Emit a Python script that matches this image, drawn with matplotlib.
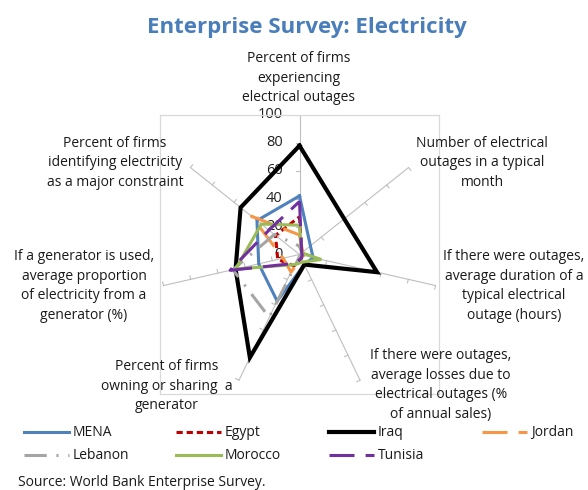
import matplotlib
matplotlib.use('Agg')
import matplotlib.pyplot as plt
import numpy as np
from matplotlib.lines import Line2D

plt.rcParams['font.family'] = ['Open Sans', 'DejaVu Sans']
plt.rcParams['lines.scale_dashes'] = False

# Data
categories = [
    'Percent of firms\nexperiencing\nelectrical outages',
    'Number of electrical\noutages in a typical\nmonth',
    'If there were outages,\naverage duration of a\ntypical electrical\noutage (hours)',
    'If there were outages,\naverage losses due to\nelectrical outages (%\nof annual sales)',
    'Percent of firms\nowning or sharing  a\ngenerator',
    'If a generator is used,\naverage proportion\nof electricity from a\ngenerator (%)',
    'Percent of firms\nidentifying electricity\nas a major constraint',
]
series_names = ['MENA', 'Egypt', 'Iraq', 'Jordan', 'Lebanon', 'Morocco', 'Tunisia']
mena = [42, 10, 10, 8, 37, 30, 39]
egypt = [27, 2, 2, 3, 9, 16, 22]
iraq = [78, 41, 57, 8, 82, 47, 54]
jordan = [14, 3, 3, 3, 14, 12, 44]
lebanon = [6, 2, 2, 1, 50, 49, 23]
morocco = [21, 2, 16, 6, 8, 47, 35]
tunisia = [38, 2, 2, 3, 7, 51, 28]
tick_values = [0, 20, 40, 60, 80, 100]

series = [mena, egypt, iraq, jordan, lebanon, morocco, tunisia]

# line styles: color, width (pt), dash pattern (pt)
styles = {
    'MENA':    ('#4F81BD', 2.2, None),
    'Egypt':   ('#C00000', 2.2, (4.5, 2.8)),
    'Iraq':    ('#000000', 3.0, None),
    'Jordan':  ('#F79646', 2.2, (18, 8)),
    'Lebanon': ('#A5A5A5', 2.2, (16, 7, 1.5, 7)),
    'Morocco': ('#9BBB59', 2.2, None),
    'Tunisia': ('#7030A0', 2.2, (18, 8)),
}

# label centres in pixels (x, y from top)
label_pos = [(299, 78), (482, 163), (514, 286), (441, 385),
             (167, 386), (84, 286), (115, 163)]

W, H = 588, 490
fig = plt.figure(figsize=(W / 100, H / 100), dpi=100)
ax = fig.add_axes([160 / W, 1 - 394 / H, 279 / W, 279 / H])
ax.set_xlim(-100, 100)
ax.set_ylim(-100, 100)
ax.set_xticks([])
ax.set_yticks([])
for s in ax.spines.values():
    s.set_color('#D9D9D9')
    s.set_linewidth(0.9)

n = len(categories)
angles = np.pi / 2 - 2 * np.pi * np.arange(n) / n
dx = np.cos(angles)
dy = np.sin(angles)

# spokes with small tick marks
for k in range(n):
    ax.plot([0, 100 * dx[k]], [0, 100 * dy[k]], color='#BFBFBF', lw=0.8, zorder=1)
    if k == 0:
        px, py = -1.0, 0.0
    else:
        px, py = dy[k], -dx[k]
    for v in tick_values[1:]:
        ax.plot([v * dx[k], v * dx[k] + 2.6 * px], [v * dy[k], v * dy[k] + 2.6 * py],
                color='#BFBFBF', lw=0.8, zorder=1)

# value labels on the first spoke
for v in tick_values:
    ax.text(-12, v, str(v), ha='right', va='center', fontsize=10.5, color='#222222', zorder=2)

# series polygons
for i, (name, vals) in enumerate(zip(series_names, series)):
    color, lw, dashes = styles[name]
    v = np.array(vals + vals[:1], dtype=float)
    xs = v * np.append(dx, dx[0])
    ys = v * np.append(dy, dy[0])
    line, = ax.plot(xs, ys, color=color, lw=lw, zorder=3 + i,
                    solid_joinstyle='miter', dash_capstyle='butt')
    if dashes:
        line.set_dashes(dashes)

# category labels
for text, (x, y) in zip(categories, label_pos):
    fig.text(x / W, 1 - y / H, text, ha='center', va='center', fontsize=10,
             linespacing=1.45, color='#1a1a1a', multialignment='center')

# title
fig.text(307 / W, 1 - 27 / H, 'Enterprise Survey: Electricity', ha='center', va='center',
         fontsize=16, fontweight='bold', color='#4A7EBB')

# legend (4 columns, 2 rows)
col_x = [24, 176, 329, 482]
row_y = [432, 455]
for i, name in enumerate(series_names):
    color, lw, dashes = styles[name]
    x0 = col_x[i % 4]
    y0 = 1 - row_y[i // 4] / H
    ln = Line2D([x0 / W, (x0 + 45) / W], [y0, y0], transform=fig.transFigure,
                color=color, lw=lw, dash_capstyle='butt')
    if dashes:
        ln.set_dashes(dashes)
    fig.add_artist(ln)
    fig.text((x0 + 49) / W, y0, name, ha='left', va='center', fontsize=10, color='#1a1a1a')

fig.text(18 / W, 1 - 482 / H, 'Source: World Bank Enterprise Survey.', ha='left', va='center',
         fontsize=10, color='#1a1a1a')

fig.savefig('out.png', dpi=100)
